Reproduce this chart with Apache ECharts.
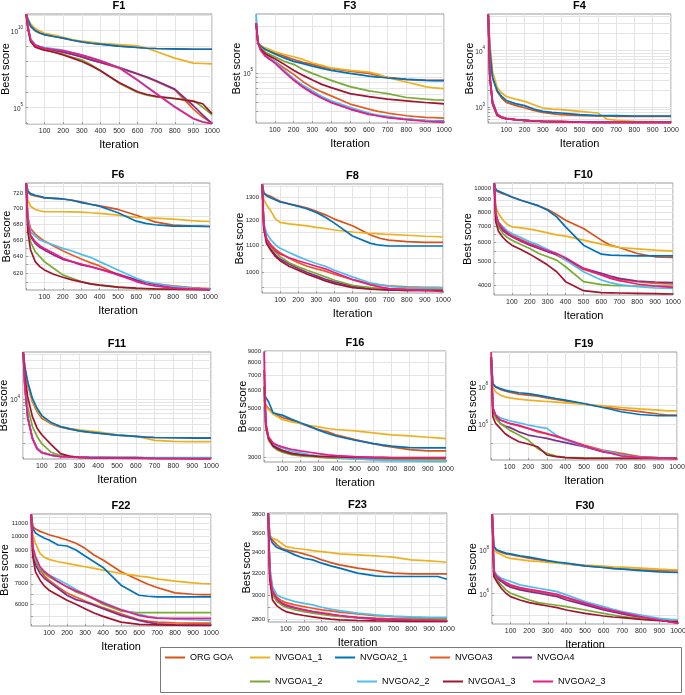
<!DOCTYPE html>
<html>
<head>
<meta charset="utf-8">
<script src="https://cdn.jsdelivr.net/npm/echarts@6/dist/echarts.min.js"></script>
<style>html,body{margin:0;padding:0;background:#fff}#c{width:685px;height:695px}</style>
</head>
<body>
<div id="c"></div>
<script>
const iterations = [1,10,25,50,75,100,150,200,250,300,350,400,500,600,650,700,800,900,950,1000];
const seriesNames = ['ORG GOA','NVGOA1_1','NVGOA2_1','NVGOA3','NVGOA4','NVGOA1_2','NVGOA2_2','NVGOA1_3','NVGOA2_3'];
const seriesColors = ['#D95319','#EDB120','#0072BD','#EA5B22','#7E2F8E','#77AC30','#4DBEEE','#A2142F','#EC1A85'];
const panelTitles = ['F1','F3','F4','F6','F8','F10','F11','F16','F19','F22','F23','F30'];

// order of rows: ORG GOA, NVGOA1_1, NVGOA2_1, NVGOA3, NVGOA4, NVGOA1_2, NVGOA2_2, NVGOA1_3, NVGOA2_3
const f1Values = [
 [1.2e11,4.9e10,1.82e10,9.5e9,6.7e9,5.2e9,4.1e9,3.2e9,2.36e9,1.84e9,1.5e9,1.3e9,9.6e8,7.9e8,7.1e8,6.8e8,6.5e8,6.1e8,6.1e8,6.1e8],
 [1.2e11,6.3e10,2.7e10,1.35e10,9.5e9,6.7e9,5.0e9,3.7e9,2.6e9,2.03e9,1.75e9,1.5e9,1.23e9,1.0e9,7.1e8,4.3e8,1.6e8,7.6e7,7.2e7,6.8e7],
 [1.2e11,5.5e10,2.0e10,1.0e10,7.0e9,5.5e9,4.1e9,3.2e9,2.36e9,1.84e9,1.5e9,1.3e9,9.6e8,7.9e8,7.1e8,6.8e8,6.5e8,6.1e8,6.1e8,6.1e8],
 [1.2e11,1.82e10,2.5e9,1.0e9,7.9e8,6.5e8,5.0e8,3.9e8,2.8e8,1.95e8,1.25e8,8.4e7,3.6e7,1.46e7,8.9e6,4.9e6,1.4e6,7.8e4,2.35e4,9.6e3],
 [1.2e11,1.82e10,2.5e9,1.0e9,7.9e8,6.5e8,5.0e8,3.9e8,2.8e8,1.95e8,1.25e8,8.4e7,4.0e7,1.54e7,9.3e6,5.4e6,1.55e6,1.28e5,3.3e4,8.7e3],
 [1.2e11,1.42e10,1.93e9,8.7e8,6.8e8,5.6e8,4.1e8,2.9e8,1.85e8,1.25e8,5.9e7,2.5e7,3.8e6,9.4e5,6.3e5,4.9e5,3.7e5,2.7e5,1.05e5,3.3e4],
 [1.2e11,2.0e10,2.7e9,1.23e9,9.6e8,7.9e8,6.5e8,5.3e8,3.7e8,2.6e8,1.77e8,1.13e8,4.0e7,6.3e6,2.3e6,8.5e5,1.16e5,1.93e4,1.17e4,8.7e3],
 [1.2e11,1.42e10,1.93e9,8.3e8,6.5e8,5.3e8,3.9e8,2.6e8,1.6e8,9.7e7,5.1e7,2.4e7,4.2e6,1.04e6,6.9e5,5.2e5,3.8e5,2.45e5,1.73e5,3.9e4],
 [1.2e11,1.82e10,2.5e9,1.12e9,8.7e8,7.1e8,5.8e8,4.8e8,3.5e8,2.5e8,1.68e8,1.07e8,3.8e7,5.7e6,2.1e6,7.7e5,1.05e5,1.84e4,1.12e4,8.7e3]
];
const f3Values = [
 [3.22e5,2.05e5,1.87e5,1.73e5,1.66e5,1.60e5,1.48e5,1.37e5,1.28e5,1.22e5,1.15e5,1.10e5,1.04e5,9.85e4,9.4e4,8.97e4,8.56e4,8.42e4,8.36e4,8.36e4],
 [3.22e5,2.05e5,1.90e5,1.80e5,1.73e5,1.64e5,1.54e5,1.46e5,1.37e5,1.26e5,1.19e5,1.12e5,1.06e5,1.016e5,9.62e4,8.90e4,8.04e4,7.21e4,6.98e4,6.88e4],
 [3.22e5,2.05e5,1.87e5,1.73e5,1.64e5,1.56e5,1.42e5,1.31e5,1.24e5,1.17e5,1.11e5,1.06e5,9.85e4,9.25e4,9.04e4,8.83e4,8.56e4,8.36e4,8.30e4,8.30e4],
 [3.22e5,2.05e5,1.73e5,1.54e5,1.42e5,1.31e5,1.12e5,9.62e4,8.1e4,7.04e4,6.36e4,5.79e4,4.77e4,4.24e4,4.01e4,3.86e4,3.62e4,3.49e4,3.46e4,3.43e4],
 [3.22e5,2.05e5,1.70e5,1.48e5,1.37e5,1.28e5,1.04e5,8.56e4,7.21e4,6.26e4,5.57e4,4.95e4,4.24e4,3.77e4,3.62e4,3.49e4,3.35e4,3.23e4,3.20e4,3.20e4],
 [3.22e5,2.05e5,1.80e5,1.62e5,1.54e5,1.46e5,1.31e5,1.22e5,1.08e5,9.85e4,9.04e4,8.36e4,7.21e4,6.51e4,6.31e4,6.11e4,5.57e4,5.36e4,5.27e4,5.23e4],
 [4.01e5,2.05e5,1.73e5,1.50e5,1.39e5,1.31e5,1.06e5,8.69e4,7.43e4,6.51e4,5.70e4,5.15e4,4.41e4,3.86e4,3.68e4,3.57e4,3.35e4,3.25e4,3.20e4,3.18e4],
 [3.22e5,2.05e5,1.75e5,1.57e5,1.48e5,1.39e5,1.22e5,1.06e5,9.4e4,8.42e4,7.6e4,7.04e4,6.11e4,5.70e4,5.52e4,5.36e4,5.15e4,4.95e4,4.88e4,4.80e4],
 [3.22e5,2.05e5,1.70e5,1.48e5,1.37e5,1.26e5,1.02e5,8.42e4,7.1e4,6.17e4,5.48e4,4.95e4,4.24e4,3.74e4,3.60e4,3.46e4,3.30e4,3.18e4,3.13e4,3.10e4]
];
const f4Values = [
 [4.44e4,1.10e4,3480,1890,1440,1210,1070,973,874,806,763,732,713,694,694,684,684,684,684,684],
 [4.44e4,1.35e4,4250,2250,1770,1540,1380,1260,1100,960,922,898,839,784,614,582,558,551,543,543],
 [4.44e4,1.03e4,3250,1970,1540,1310,1150,1060,922,839,806,784,732,703,703,703,694,694,694,694],
 [4.44e4,3480,1180,732,657,623,598,582,566,558,551,551,543,536,536,536,536,536,536,536],
 [4.44e4,3720,1260,752,666,632,598,582,566,558,551,551,543,536,536,536,536,536,536,536],
 [4.44e4,3250,1100,703,649,623,598,582,566,558,551,551,543,543,536,536,536,536,536,536],
 [4.44e4,3570,1150,722,657,623,598,582,566,558,551,543,543,536,536,536,536,536,536,536],
 [4.44e4,3380,1150,713,649,623,598,582,566,558,551,551,543,536,536,536,536,536,536,536],
 [4.44e4,3480,1150,722,657,623,598,582,566,558,551,543,543,536,536,536,536,536,536,529]
];
const f6Values = [
 [734.5,722.2,718.7,716.9,715.5,714.2,713.7,712.8,711.1,708.9,705.8,703.6,698.9,691.4,687.1,682.8,678.7,677.3,676.9,676.9],
 [734.5,711.1,703.2,698.9,697.2,695.9,695.9,695.9,695.7,695.5,694.6,693.8,691.4,688.4,687.9,687.6,686.3,684.5,683.7,683.3],
 [734.5,723.6,720,717.8,716.4,714.6,713.7,712.8,711.1,708.0,705.8,703.2,694.6,683.7,680.8,679.1,677.3,677.3,677.3,676.9],
 [734.5,689.3,674.4,667.3,662.7,658.6,652.5,646.8,641.6,636.9,632.5,628.6,618.1,611.6,609.7,607.8,605.5,603.6,603.0,602.5],
 [734.5,680.8,664.0,655.8,650.9,647.6,641.6,636.4,633.7,629.8,627.8,625.0,619.0,612.3,609.3,607.4,604.0,602.5,602.1,601.8],
 [734.5,676.5,657.8,645.6,639.6,633.7,625.8,618.1,614.2,610.4,607.8,606.3,604.0,602.5,602.1,601.8,601.4,601.0,601.0,601.0],
 [734.5,687.1,670.2,664.9,659.9,657.8,653.8,649.6,646.4,642.4,638.8,633.7,623.9,614.2,610.4,608.5,604.8,602.9,602.2,601.8],
 [734.5,670.2,647.6,633.7,627.8,623.9,618.8,615.4,612.3,610.0,607.8,606.3,604.0,602.9,602.5,602.1,601.8,601.4,601.2,601.0],
 [734.5,682.8,666.1,657.8,652.9,649.6,643.6,637.6,633.7,630.9,627.8,624.7,618.1,610.4,607.4,605.5,602.9,601.8,601.4,601.0]
];
const f8Values = [
 [1362,1320,1312,1304,1292,1282,1271,1262,1252,1238,1223,1205,1177,1140,1127,1120,1114,1111,1111,1111],
 [1362,1289,1267,1238,1205,1191,1185,1181,1177,1171,1166,1160,1152,1146,1144,1142,1139,1135,1134,1132],
 [1362,1320,1307,1297,1288,1279,1270,1260,1248,1233,1213,1188,1136,1107,1100,1097,1097,1097,1097,1097],
 [1362,1177,1127,1101,1084,1072,1051,1035,1022,1013,1005,994.2,975.7,962.1,957.6,954.3,951.0,949.9,949.9,948.8],
 [1362,1171,1114,1084,1063,1048,1030,1014,1000,988.4,976.9,967.8,953.2,945.4,943.2,941.0,939.8,939.8,939.8,937.6],
 [1362,1171,1120,1092,1073,1057,1035,1020,1008,996.5,984.9,973.4,956.5,948.8,946.6,945.4,944.3,944.3,944.3,944.3],
 [1362,1188,1147,1120,1101,1088,1072,1057,1044,1032,1022,1008,984.9,964.3,958.8,953.2,948.8,947.7,947.7,947.7],
 [1362,1166,1107,1079,1057,1042,1022,1008,994.2,982.7,971.2,962.1,948.8,943.2,942.1,941.0,939.8,939.8,939.8,939.8],
 [1362,1177,1123,1097,1079,1067,1053,1042,1032,1022,1013,1000,975.7,957.6,951.0,945.4,942.1,939.8,937.6,935.5]
];
const f10Values = [
 [10550,9844,9690,9538,9390,9243,8956,8733,8489,8200,7822,7413,6851,6137,5853,5725,5409,5242,5220,5209],
 [10550,8409,7896,7413,7116,6961,6895,6808,6702,6577,6454,6372,6137,5908,5816,5725,5653,5582,5556,5530],
 [10550,9906,9782,9599,9419,9243,8956,8733,8489,8149,7651,6961,5853,5375,5324,5309,5292,5292,5292,5292],
 [10550,7773,7184,6808,6597,6433,6175,5946,5761,5547,5324,5080,4651,4409,4313,4232,4140,4075,4062,4050],
 [10550,7651,7071,6702,6494,6332,6079,5853,5671,5495,5358,5160,4695,4479,4368,4272,4166,4127,4114,4101],
 [10550,7532,6961,6535,6293,6137,5890,5671,5409,5242,5080,4770,4140,4025,3999,3986,3974,3974,3974,3974],
 [10550,7896,7297,6961,6702,6535,6293,6040,5853,5618,5409,5080,4550,4205,4101,4025,3949,3899,3893,3887],
 [10550,7297,6681,6293,6040,5853,5618,5375,5112,4846,4550,4140,3802,3731,3725,3719,3707,3695,3690,3684],
 [10550,7896,7229,6851,6577,6372,6137,5908,5725,5547,5409,5193,4695,4409,4272,4179,4050,3974,3949,3924]
];
const f11Values = [
 [5.44e4,3.00e4,1.65e4,9090,6360,5000,4090,3630,3380,3180,3030,2930,2720,2600,2540,2500,2480,2480,2480,2480],
 [5.44e4,3.00e4,1.75e4,9640,6750,5310,4180,3710,3460,3300,3180,3070,2760,2600,2450,2250,2170,2150,2150,2150],
 [5.44e4,3.18e4,1.86e4,1.02e4,7160,5510,4280,3710,3420,3180,3030,2930,2720,2600,2540,2500,2480,2450,2450,2450],
 [5.44e4,1.56e4,5310,2450,1710,1470,1330,1270,1255,1240,1230,1225,1215,1210,1205,1200,1195,1190,1190,1190],
 [5.44e4,1.56e4,5310,2450,1710,1470,1330,1270,1255,1240,1230,1225,1215,1210,1205,1200,1195,1190,1190,1190],
 [5.44e4,1.97e4,7600,3710,2600,2000,1470,1300,1240,1210,1200,1195,1190,1185,1180,1175,1172,1170,1168,1168],
 [5.44e4,1.60e4,5310,2450,1710,1470,1330,1270,1255,1240,1235,1230,1225,1220,1218,1215,1212,1210,1210,1210],
 [5.44e4,2.22e4,1.09e4,5310,3500,2760,1930,1400,1270,1225,1210,1200,1195,1190,1185,1180,1175,1170,1168,1168],
 [5.44e4,1.56e4,5000,2400,1650,1440,1320,1260,1240,1225,1210,1200,1190,1180,1175,1170,1165,1160,1158,1155]
];
const f16Values = [
 [5432,5158,4984,4733,4652,4541,4418,4268,4124,4011,3916,3783,3617,3471,3401,3354,3263,3219,3219,3219],
 [5432,5106,4933,4700,4572,4448,4342,4268,4181,4124,4053,4011,3956,3876,3836,3796,3757,3705,3680,3655],
 [5720,5583,5339,4765,4700,4652,4464,4297,4153,3984,3849,3744,3592,3471,3424,3378,3331,3320,3320,3320],
 [6232,4268,3693,3448,3331,3241,3152,3109,3077,3045,3024,3014,2993,2983,2978,2972,2968,2965,2963,2962],
 [6232,4196,3655,3413,3308,3241,3141,3088,3066,3035,3014,3004,2983,2972,2968,2965,2960,2956,2954,2952],
 [6232,4124,3592,3354,3241,3174,3098,3056,3040,3014,2998,2983,2962,2952,2947,2942,2937,2934,2933,2932],
 [5071,4196,3655,3471,3378,3320,3219,3152,3098,3056,3030,3004,2962,2932,2920,2911,2901,2891,2886,2881],
 [7398,4153,3655,3378,3286,3219,3130,3088,3066,3045,3035,3024,3014,3010,3008,3006,3005,3004,3004,3004],
 [8938,4268,3718,3495,3413,3354,3274,3219,3174,3130,3088,3066,3035,3014,3004,2993,2993,2993,2993,2993]
];
const f19Values = [
 [3.5e9,1.13e8,9.2e7,6.7e7,5.7e7,4.8e7,3.8e7,3.4e7,3.0e7,2.43e7,1.99e7,1.69e7,1.13e7,8.2e6,6.9e6,5.9e6,4.6e6,3.4e6,3.0e6,3.0e6],
 [3.5e9,9.2e7,5.0e7,3.4e7,2.75e7,2.43e7,2.07e7,1.83e7,1.69e7,1.56e7,1.44e7,1.33e7,1.13e7,9.2e6,8.5e6,7.5e6,6.4e6,5.5e6,5.0e6,5.0e6],
 [3.5e9,1.38e8,9.2e7,7.5e7,6.2e7,5.5e7,4.5e7,4.1e7,3.4e7,2.75e7,2.24e7,1.83e7,1.22e7,7.5e6,5.9e6,4.5e6,3.2e6,2.75e6,2.75e6,2.75e6],
 [3.5e9,6.7e6,3.0e6,1.63e6,1.33e6,1.08e6,7.9e5,5.9e5,3.9e5,3.0e5,2.15e5,1.56e5,7.9e4,4.3e4,3.5e4,2.86e4,1.91e4,1.69e4,1.6e4,1.56e4],
 [3.5e9,5.5e6,2.43e6,1.08e6,7.9e5,6.7e5,3.9e5,2.64e5,2.15e5,1.76e5,1.33e5,1.04e5,6.4e4,3.5e4,2.9e4,2.34e4,1.76e4,1.63e4,1.6e4,1.56e4],
 [3.5e9,5.5e6,1.99e6,1.08e6,7.2e5,4.8e5,2.64e5,1.44e5,5.2e4,2.86e4,2.07e4,1.76e4,1.63e4,1.6e4,1.58e4,1.56e4,1.56e4,1.56e4,1.56e4,1.56e4],
 [3.5e9,8.2e6,3.0e6,2.15e6,1.76e6,1.50e6,1.17e6,8.9e5,7.2e5,5.9e5,2.64e5,1.44e5,6.9e4,3.9e4,3.3e4,2.34e4,1.76e4,1.63e4,1.6e4,1.56e4],
 [3.5e9,2.43e6,1.08e6,5.9e5,3.2e5,2.15e5,1.17e5,8.9e4,6.4e4,2.34e4,1.91e4,1.69e4,1.56e4,1.56e4,1.56e4,1.56e4,1.56e4,1.56e4,1.56e4,1.56e4],
 [6.4e9,6.7e6,3.0e6,1.63e6,1.33e6,1.08e6,8.5e5,5.9e5,4.3e5,3.2e5,2.34e5,1.63e5,7.2e4,3.5e4,2.86e4,2.07e4,1.69e4,1.56e4,1.53e4,1.50e4]
];
const f22Values = [
 [11767,10730,10520,10340,10210,10080,9896,9700,9461,9114,8671,8352,7655,7192,6980,6808,6541,6476,6460,6460],
 [11767,10080,9461,8780,8521,8394,8248,8147,8046,7947,7850,7751,7560,7411,7356,7264,7138,7050,7015,6997],
 [11767,10600,10210,10000,9822,9700,9344,9274,9001,8606,8248,7907,6928,6428,6380,6348,6348,6348,6348,6348],
 [11767,8895,8248,7751,7411,7192,6842,6541,6348,6161,6009,5861,5603,5357,5304,5265,5238,5225,5225,5225],
 [11767,8895,8046,7560,7282,7103,6757,6428,6223,6115,5965,5817,5534,5330,5251,5199,5160,5147,5147,5147],
 [11767,9001,8352,7790,7560,7374,7103,6842,6591,6428,6238,6009,5716,5645,5645,5645,5645,5645,5645,5645],
 [11767,9114,8457,7907,7655,7467,7228,6980,6707,6476,6269,6115,5774,5575,5492,5438,5384,5357,5344,5330],
 [11767,8564,7655,7192,6876,6673,6428,6192,6009,5817,5631,5492,5265,5173,5165,5160,5147,5140,5137,5134],
 [11767,9228,8564,7947,7655,7467,7103,6842,6640,6476,6269,6070,5774,5534,5465,5424,5411,5411,5411,5411]
];
const f23Values = [
 [3818,3581,3529,3478,3444,3428,3411,3388,3362,3329,3303,3281,3249,3227,3214,3202,3196,3196,3196,3196],
 [3818,3564,3546,3529,3495,3461,3444,3434,3421,3411,3401,3388,3378,3368,3362,3355,3329,3319,3313,3306],
 [3818,3564,3495,3451,3434,3418,3378,3345,3329,3297,3271,3249,3202,3177,3171,3171,3171,3171,3171,3146],
 [3818,3233,3049,2984,2955,2938,2918,2904,2890,2876,2868,2857,2843,2829,2825,2821,2815,2810,2808,2807],
 [3818,3186,3020,2955,2927,2910,2890,2876,2862,2849,2835,2826,2810,2799,2796,2793,2791,2790,2789,2788],
 [3818,3171,3005,2947,2918,2898,2876,2862,2849,2838,2829,2821,2813,2807,2805,2804,2802,2801,2800,2799],
 [3818,3265,3079,3005,2984,2970,2947,2932,2918,2898,2882,2870,2849,2835,2829,2824,2818,2815,2814,2813],
 [3818,3140,2961,2910,2882,2862,2843,2829,2818,2807,2799,2793,2788,2785,2784,2782,2781,2781,2780,2780],
 [3818,3202,3034,2970,2938,2918,2896,2876,2862,2851,2840,2829,2815,2804,2800,2799,2793,2791,2790,2788]
];
const f30Values = [
 [4.43e9,1.19e8,9.3e7,7.5e7,6.5e7,5.9e7,4.9e7,4.1e7,3.5e7,2.9e7,2.6e7,2.26e7,1.83e7,1.53e7,1.43e7,1.33e7,1.19e7,1.11e7,1.11e7,1.11e7],
 [4.43e9,1.0e8,7.5e7,5.9e7,4.6e7,4.0e7,3.5e7,3.1e7,2.9e7,2.6e7,2.43e7,2.26e7,1.96e7,1.76e7,1.66e7,1.58e7,1.43e7,1.28e7,1.23e7,1.19e7],
 [4.43e9,1.43e8,1.0e8,8.4e7,7.0e7,6.5e7,5.3e7,4.6e7,3.8e7,3.2e7,2.7e7,2.43e7,1.83e7,1.53e7,1.37e7,1.28e7,1.11e7,9.7e6,9.3e6,9.0e6],
 [4.43e9,9.0e6,5.5e6,3.7e6,2.9e6,2.18e6,1.64e6,1.33e6,1.15e6,1.0e6,8.1e5,5.9e5,3.2e5,1.83e5,1.5e5,1.19e5,7.8e4,5.9e4,5.1e4,4.4e4],
 [4.43e9,8.4e6,4.9e6,3.5e6,2.43e6,1.89e6,1.43e6,1.19e6,1.0e6,8.4e5,7.0e5,4.9e5,2.9e5,1.70e5,1.38e5,1.11e5,7.8e4,5.9e4,5.1e4,4.4e4],
 [4.43e9,7.0e6,4.1e6,2.43e6,1.43e6,1.0e6,7.0e5,4.9e5,3.7e5,3.2e5,2.8e5,2.43e5,1.70e5,1.19e5,1.0e5,8.4e4,7.0e4,6.3e4,6.1e4,5.9e4],
 [4.43e9,1.19e7,7.0e6,4.9e6,4.1e6,3.5e6,2.43e6,2.03e6,1.70e6,1.43e6,1.19e6,8.4e5,4.1e5,2.43e5,1.83e5,1.43e5,1.0e5,7.0e4,6.3e4,5.9e4],
 [4.43e9,5.9e6,3.5e6,1.70e6,1.0e6,7.0e5,4.9e5,3.7e5,3.1e5,2.6e5,2.18e5,1.70e5,1.19e5,9.0e4,8.1e4,7.5e4,6.3e4,5.5e4,5.1e4,4.9e4],
 [4.43e9,1.0e7,5.9e6,4.1e6,3.1e6,2.43e6,1.83e6,1.53e6,1.28e6,1.07e6,9.0e5,6.5e5,3.5e5,2.03e5,1.58e5,1.28e5,8.4e4,5.9e4,4.9e4,4.1e4]
];

// y tick labels and grid line values of every panel
const f1Labels = [1e5,1e10],  f1Grid = [1e4,1e5,1e6,1e7,1e8,1e9,1e10,1e11];
const f3Labels = [1e5],       f3Grid = [4e4,5e4,6e4,7e4,8e4,9e4,1e5,2e5,3e5];
const f4Labels = [1e3,1e4],   f4Grid = [600,700,800,900,1e3,2e3,3e3,4e3,5e3,6e3,7e3,8e3,9e3,1e4,2e4,3e4,4e4];
const f6Labels = [620,640,660,680,700,720], f6Grid = [610,620,630,640,650,660,670,680,690,700,710,720,730];
const f8Labels = [1000,1100,1200,1300], f8Grid = [950,1000,1050,1100,1150,1200,1250,1300,1350];
const f10Labels = [4000,5000,6000,7000,8000,9000,10000], f10Grid = [4000,4500,5000,5500,6000,6500,7000,7500,8000,8500,9000,9500,10000];
const f11Labels = [1e4],      f11Grid = [2e3,3e3,4e3,5e3,6e3,7e3,8e3,9e3,1e4,2e4,3e4,4e4,5e4];
const f16Labels = [3000,4000,5000,6000,7000,8000,9000], f16Grid = [3000,4000,5000,6000,7000,8000,9000];
const f19Labels = [1e6,1e8],  f19Grid = [1e5,1e6,1e7,1e8,1e9];
const f22Labels = [6000,7000,8000,9000,10000,11000], f22Grid = [5500,6000,6500,7000,7500,8000,8500,9000,9500,10000,10500,11000,11500];
const f23Labels = [2800,3000,3200,3400,3600,3800], f23Grid = [2800,2900,3000,3100,3200,3300,3400,3500,3600,3700,3800];
const f30Labels = [1e6,1e8],  f30Grid = [1e5,1e6,1e7,1e8,1e9];

const panelValues = [f1Values,f3Values,f4Values,f6Values,f8Values,f10Values,f11Values,f16Values,f19Values,f22Values,f23Values,f30Values];
const panelLabels = [f1Labels,f3Labels,f4Labels,f6Labels,f8Labels,f10Labels,f11Labels,f16Labels,f19Labels,f22Labels,f23Labels,f30Labels];
const panelGrids = [f1Grid,f3Grid,f4Grid,f6Grid,f8Grid,f10Grid,f11Grid,f16Grid,f19Grid,f22Grid,f23Grid,f30Grid];
const panelRanges = [[8.3e3,1.2e11],[3.05e4,4.01e5],[522,4.44e4],[600.8,734.5],[931,1362],[3649,10550],[1153,5.44e4],[2871,9000],[1.27e4,6.4e9],[5114,11767],[2776,3818],[3.85e4,4.43e9]];
const panelPower = [true,true,true,false,false,false,true,false,true,false,false,true];

// layout: [left, top, right, bottom, x of "Best score"]
const layout = [
 [26,14,212,124,6],[256,14,444,123,237],[488,14,671,123,470],
 [26,183,210,290,7],[262,184,443,293,240],[494,183,673,295,468],
 [23,352,211,459,4],[264,351,446,462,243],[491,352,677,460,473],
 [31,514,211,626,5],[268,513,447,622,247],[492,514,678,624,473]
];
const legendPos = [[165,653],[250,653],[335,653],[430,653],[512,653],[250,677],[357,677],[443,677],[533,677]];

const FONT = '"Liberation Sans", Arial, Helvetica, sans-serif';
const chart = echarts.init(document.getElementById('c'), null, {renderer:'canvas'});
const option = {
  animation:false,
  textStyle:{fontFamily:FONT},
  grid:[], xAxis:[], yAxis:[], series:[], legend:[],
  graphic:[{type:'rect', z:-1, shape:{x:160.5,y:647.5,width:521,height:45}, style:{fill:'#fff', stroke:'#7a7a7a', lineWidth:1}}]
};
layout.forEach((L,i)=>{
  const [l,t,r,b,bx] = L;
  option.grid.push({left:l, top:t, width:r-l, height:b-t, show:true, borderColor:'#9a9a9a', borderWidth:1, backgroundColor:'#fff', outerBoundsMode:'none', containLabel:false});
  option.xAxis.push({type:'value', gridIndex:i, min:0, max:1000, interval:100,
    axisLine:{show:false}, axisTick:{show:true, inside:true, length:2, lineStyle:{color:'#9a9a9a'}},
    axisLabel:{fontSize:7, margin:4, color:'#262626', formatter:v=> v===0?'':String(v)},
    splitLine:{show:true, lineStyle:{color:'#e4e4e4', width:1}}});
  const power = panelPower[i];
  option.yAxis.push({type:'log', logBase:10, gridIndex:i, min:panelRanges[i][0], max:panelRanges[i][1],
    axisLine:{show:false},
    axisTick:{show:true, inside:true, length:2, customValues:panelGrids[i], lineStyle:{color:'#9a9a9a'}},
    axisLabel:{customValues:panelLabels[i], fontSize:6, margin:3, color:'#262626',
      formatter: power ? (v=>'{b|10}{e|'+Math.round(Math.log10(v))+'}') : (v=>String(Math.round(v))),
      rich:{b:{fontSize:6.5, color:'#262626', verticalAlign:'bottom', lineHeight:10}, e:{fontSize:4.5, color:'#262626', verticalAlign:'top', lineHeight:10}}},
    splitLine:{show:true, lineStyle:{color:'#e4e4e4', width:1}}});
  panelValues[i].forEach((vals,k)=>{
    option.series.push({type:'line', name:seriesNames[k], xAxisIndex:i, yAxisIndex:i,
      data: iterations.map((it,j)=>[it, vals[j]]), symbol:'none', silent:true,
      lineStyle:{color:seriesColors[k], width:1.7}, itemStyle:{color:seriesColors[k]}});
  });
  const cx = (l+r)/2, cy = (t+b)/2;
  option.graphic.push({type:'text', x:cx, y:t-8, style:{text:panelTitles[i], font:'bold 11px '+FONT, fill:'#000', align:'center', verticalAlign:'middle'}});
  option.graphic.push({type:'text', x:cx, y:b+21, style:{text:'Iteration', font:'11px '+FONT, fill:'#000', align:'center', verticalAlign:'middle'}});
  option.graphic.push({type:'text', x:bx, y:cy, rotation:Math.PI/2, style:{text:'Best score', font:'11px '+FONT, fill:'#000', align:'center', verticalAlign:'middle'}});
});
seriesNames.forEach((n,k)=>{
  option.legend.push({left:legendPos[k][0], top:legendPos[k][1], data:[n], icon:'rect', itemWidth:20, itemHeight:2, itemGap:4, padding:0, selectedMode:false,
    textStyle:{fontSize:9, color:'#000', fontFamily:FONT}});
});
chart.setOption(option);
</script>
</body>
</html>
